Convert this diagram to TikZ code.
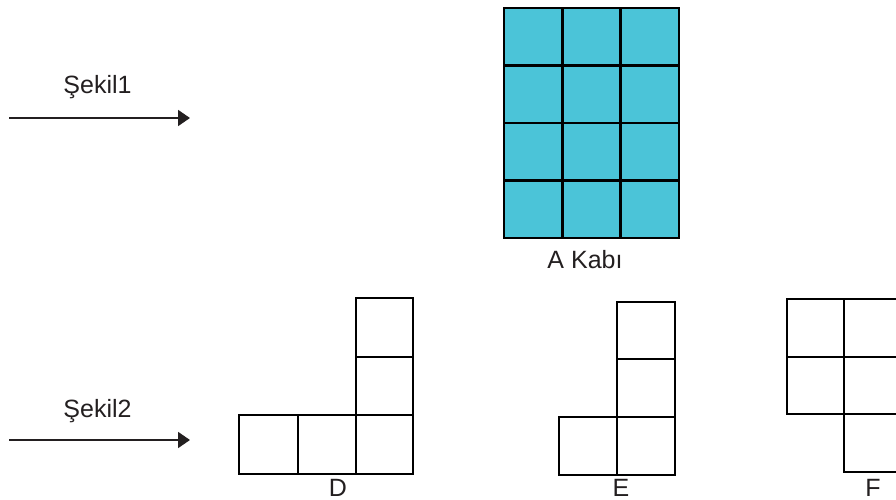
\documentclass[tikz,border=0pt]{standalone}
\usepackage{fontspec}
\setmainfont{Liberation Sans}
\usetikzlibrary{arrows.meta}
\definecolor{cellcyan}{HTML}{4BC4D8}
\definecolor{ink}{HTML}{231F20}
\begin{document}
\begin{tikzpicture}[x=1pt,y=-1pt,
  lbl/.style={font=\fontsize{25}{28}\selectfont, text=ink, inner sep=0pt, anchor=base},
  gridline/.style={line width=2.6pt, draw=black},
  piece/.style={line width=2.3pt, draw=black, line join=miter},
  arr/.style={line width=1.9pt, draw=ink, -{Triangle[length=12pt,width=16pt]}}]
\useasboundingbox (0,0) rectangle (896,500);
\clip (0,0) rectangle (896,500);
% arrows
\coordinate (s1a) at (9,118);
\coordinate (s1b) at (190,118);
\coordinate (s2a) at (9,440);
\coordinate (s2b) at (190,440);
\draw[arr] (s1a) -- (s1b);
\draw[arr] (s2a) -- (s2b);
\node[lbl] (t1) at (97.5,94) {Şekil1};
\node[lbl] (t2) at (97.5,417) {Şekil2};
% container A
\fill[cellcyan] (504,8) rectangle (679,238);
\draw[gridline] (504,8) rectangle (679,238);
\draw[gridline] (562.3,8) -- (562.3,238) (620.7,8) -- (620.7,238);
\draw[gridline] (504,65.5) -- (679,65.5) (504,123) -- (679,123) (504,180.5) -- (679,180.5);
\node[lbl] (ta) at (585,268) {A Kabı};
% D
\draw[piece] (239,415) rectangle (298,474);
\draw[piece] (298,415) rectangle (356,474);
\draw[piece] (356,415) rectangle (413,474);
\draw[piece] (356,357) rectangle (413,415);
\draw[piece] (356,298) rectangle (413,357);
\node[lbl] (td) at (338,496) {D};
% E
\draw[piece] (559,417) rectangle (617,475);
\draw[piece] (617,417) rectangle (675,475);
\draw[piece] (617,359) rectangle (675,417);
\draw[piece] (617,302) rectangle (675,359);
\node[lbl] (te) at (621,496) {E};
% F
\draw[piece] (787,299) rectangle (844,357);
\draw[piece] (787,357) rectangle (844,414);
\draw[piece] (844,299) rectangle (901,357);
\draw[piece] (844,357) rectangle (901,414);
\draw[piece] (844,414) rectangle (901,472);
\node[lbl] (tf) at (873,496) {F};
\end{tikzpicture}
\end{document}
